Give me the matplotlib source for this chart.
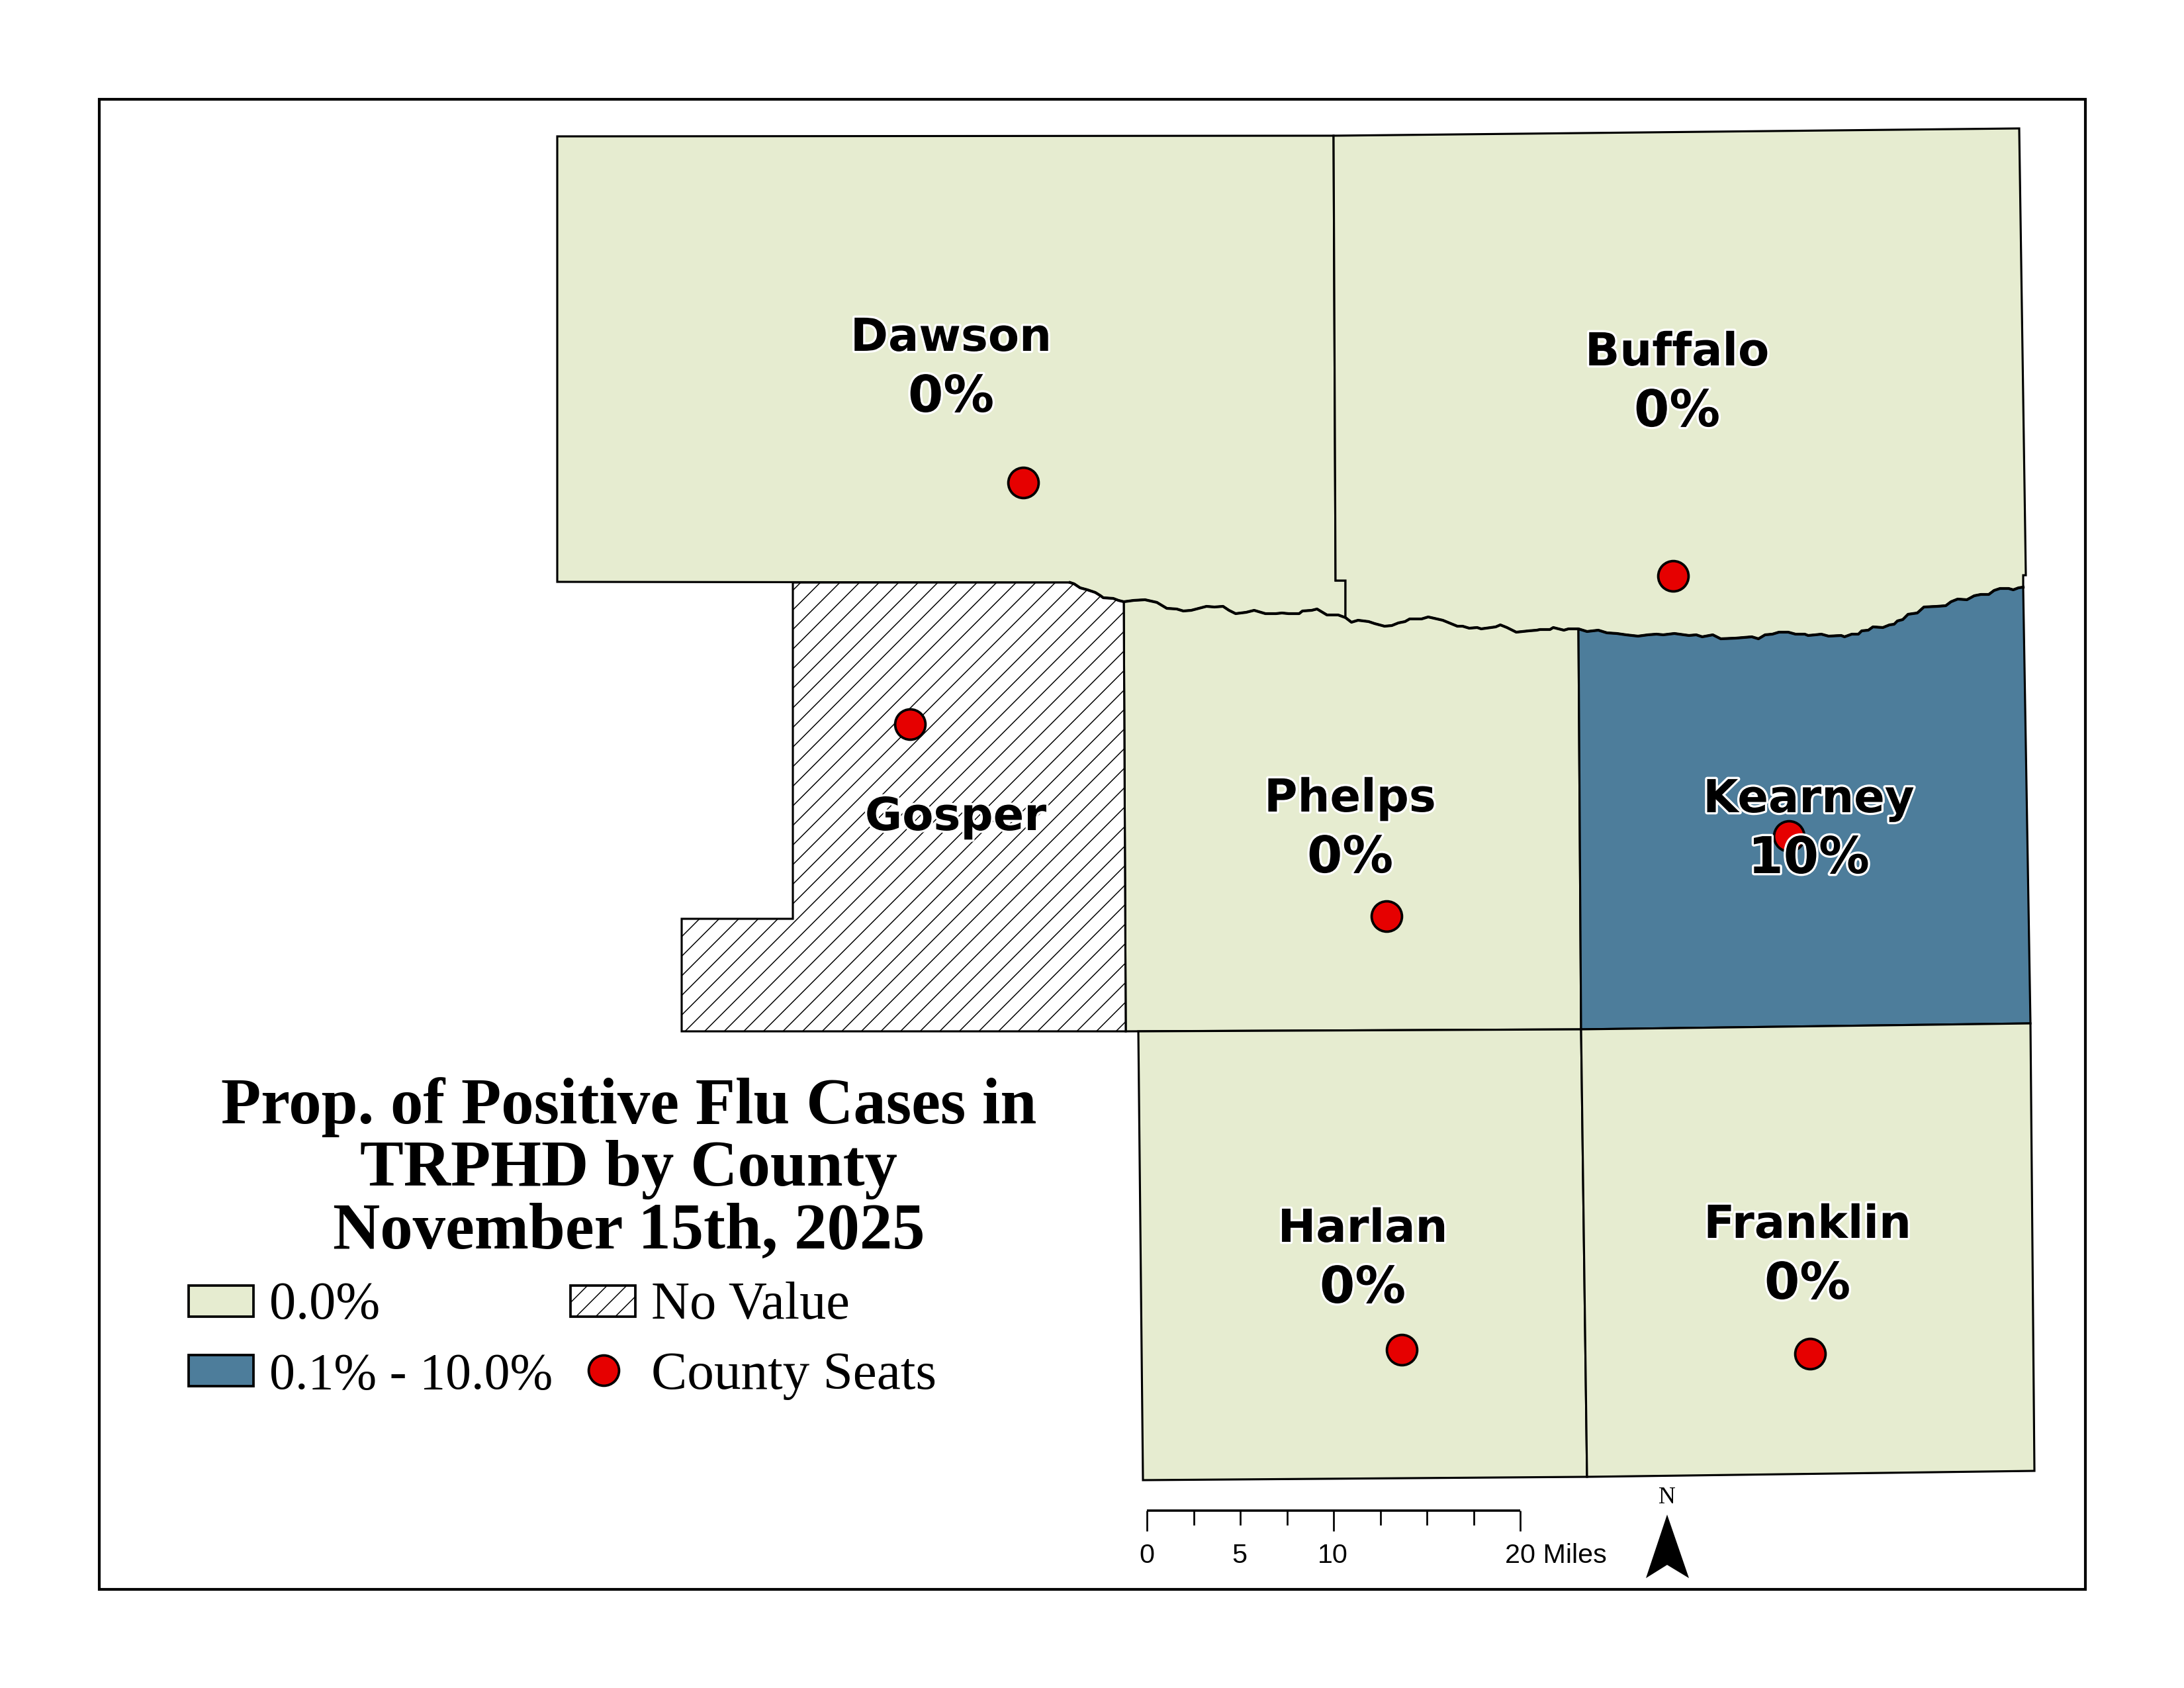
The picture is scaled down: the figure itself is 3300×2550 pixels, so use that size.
import numpy as np
import matplotlib
matplotlib.use("Agg")
import matplotlib.pyplot as plt
import matplotlib.patheffects as pe
from matplotlib.patches import Polygon, Rectangle
from matplotlib.collections import LineCollection

# ---- data (map vertices, in sheet pixels) ----
RIVER_X = [1600,1617,1623,1632,1643,1655,1663,1667,1682,1690,1698,1713,1730,1748,1763,1778,1788,1800,1823,1835,1848,1857,1867,1883,1895,1912,1928,1937,1947,1963,1968,1982,1990,2005,2022,2033,2042,2052,2068,2077,2092,2103,2113,2123,2130,2148,2158,2180,2202,2210,2220,2232,2238,2260,2267,2277,2291,2310,2322,2327,2342,2347,2363,2370,2385,2398,2415,2428,2443,2457,2475,2490,2503,2513,2530,2552,2563,2572,2588,2600,2623,2647,2657,2667,2678,2688,2702,2713,2727,2732,2743,2752,2763,2782,2787,2798,2808,2813,2823,2830,2845,2855,2862,2867,2875,2883,2897,2907,2927,2940,2948,2958,2972,2983,2993,3005,3013,3022,3035,3042,3050,3057]
RIVER_Y = [880,880,882,888,891,895,900,903,904,907,909,907,906,910,919,920,923,922,916,917,916,922,927,925,922,927,927,926,927,927,923,922,920,929,929,933,940,937,939,942,946,945,941,939,935,935,932,937,946,946,949,948,950,947,944,948,955,953,952,951,951,948,952,950,950,954,952,956,957,959,961,959,958,959,957,960,959,962,959,965,964,962,965,959,958,955,955,958,958,960,959,958,961,960,962,958,958,953,952,947,948,944,943,938,936,928,926,917,916,915,909,905,906,900,898,898,892,889,889,891,888,887]
RIVER_X = np.array(RIVER_X); RIVER_Y = np.array(RIVER_Y)

def river(x0, x1):
    m = (RIVER_X >= x0) & (RIVER_X <= x1)
    return list(zip(RIVER_X[m], RIVER_Y[m]))

DAWSON_EDGE = [(842,879),(842,206),(2015,205),(2018,877),(2033,877)]
BUFFALO_EDGE = [(2015,205),(3051,194),(3061,869),(3057,869)]
GOSPER_EDGE = [(1698,909),(1701,1558),(1030,1558),(1030,1388),(1198,1388),(1198,880)]
PHELPS_EDGE = [(2385,950),(2389,1555),(1701,1558)]
KEARNEY_EDGE = [(3068,1546),(2389,1555),(2385,950)]
HARLAN = [(1720,1558),(2389,1555),(2398,2231),(1727,2236)]
FRANKLIN = [(2389,1555),(3068,1546),(3074,2222),(2398,2231)]

COUNTIES = ["Dawson","Buffalo","Gosper","Phelps","Kearney","Harlan","Franklin"]
LABEL_PCT = ["0%","0%","","0%","10%","0%","0%"]
LABEL_X = [1437,2534,1444,2040,2733,2059,2731]
LABEL_BASE = [530,552,1254,1226,1227,1876,1870]
PCT_BASE = [622,644,None,1318,1319,1968,1962]
SEAT_X = [1546,2528,1375,2095,2703,2118,2735]
SEAT_Y = [729,870,1094,1384,1263,2039,2045]

TITLE_LINES = ["Prop. of Positive Flu Cases in","TRPHD by County","November 15th, 2025"]
TITLE_BASE = [1697,1791,1886]
LEGEND_LABELS = ["0.0%","0.1% - 10.0%","No Value","County Seats"]
LEGEND_SIZES = [19.3,18.7,19.3,19.5]
SCALE_TICKS = [0,2.5,5,7.5,10,12.5,15,17.5,20]
SCALE_LABELS = ["0","5","10"]
SCALE_LABEL_X = [1733,1873,2014]

GREEN = "#E6ECD0"; BLUE = "#4D7D9B"; RED = "#E60000"

fig = plt.figure(figsize=(11,8.5), dpi=300, facecolor="white")
ax = fig.add_axes([0,0,1,1])
ax.set_xlim(0,3300); ax.set_ylim(2550,0); ax.axis("off")

LW = 0.75
def poly(v, fc, z=2):
    p = Polygon(v, closed=True, fc=fc, ec="black", lw=LW, joinstyle="miter", zorder=z)
    ax.add_patch(p); return p

def hatch(patch, xmin, xmax, ymin, ymax):
    step = 29.6
    cs = np.arange(2593 - step*140, 2593 + step*140, step)
    cs = cs[(cs > xmin+ymin) & (cs < xmax+ymax)]
    segs = [[(c-ymax, ymax),(c-ymin, ymin)] for c in cs]
    lc = LineCollection(segs, colors="black", linewidths=0.36, zorder=patch.get_zorder()+0.1)
    ax.add_collection(lc)
    lc.set_clip_path(patch)

poly(DAWSON_EDGE + river(1600,2033)[::-1], GREEN)
poly(BUFFALO_EDGE + river(2033,3057)[::-1] + [(2033,877),(2018,877)], GREEN)
gosper = poly(GOSPER_EDGE + river(1600,1698), "white", z=2.2)
hatch(gosper, 1030, 1701, 880, 1558)
poly(river(1698,2385) + PHELPS_EDGE, GREEN)
poly(river(2385,3057) + KEARNEY_EDGE, BLUE)
poly(HARLAN, GREEN); poly(FRANKLIN, GREEN)
ax.plot(RIVER_X[1:], RIVER_Y[1:], color="black", lw=1.0, zorder=3)

# seats
ax.plot(SEAT_X, SEAT_Y, ls="none", marker="o", ms=11, mfc=RED, mec="black", mew=0.9, zorder=4)

# county labels
halo = [pe.withStroke(linewidth=1.6, foreground="white")]
LABEL_STYLE = dict(family="DejaVu Sans", weight="bold", ha="center", va="baseline",
                   color="black", path_effects=halo, zorder=5)
for n,p,x,b,pb in zip(COUNTIES,LABEL_PCT,LABEL_X,LABEL_BASE,PCT_BASE):
    ax.text(x,b,n,fontsize=16.5,**LABEL_STYLE)
    if p:
        ax.text(x,pb,p,fontsize=18.4,**LABEL_STYLE)

# title
for line,b in zip(TITLE_LINES,TITLE_BASE):
    ax.text(950,b,line,family="Liberation Serif",weight="bold",fontsize=23.7,ha="center",va="baseline",color="black")

# legend
def swatch(x,y,fc):
    r = Rectangle((x,y),98,47,fc=fc,ec="black",lw=0.9,zorder=3); ax.add_patch(r); return r
swatch(285,1942,GREEN); swatch(285,2047,BLUE)
r = swatch(862,1942,"white"); hatch(r,862,960,1942,1989)
ax.plot([912],[2070],ls="none",marker="o",ms=11,mfc=RED,mec="black",mew=0.9,zorder=4)
for t,s,x,b in zip(LEGEND_LABELS,LEGEND_SIZES,[407,407,984,984],[1992,2098,1992,2098]):
    ax.text(x,b,t,family="Liberation Serif",fontsize=s,ha="left",va="baseline",color="black")

# scale bar
x0,x1,ytop = 1733,2297,2282
xs = x0 + (x1-x0)*np.array(SCALE_TICKS)/20
ax.plot([x0,x1],[ytop,ytop],color="black",lw=0.85,solid_capstyle="butt",zorder=3)
for v,x in zip(SCALE_TICKS,xs):
    ax.plot([x,x],[ytop,2313 if v%10==0 else 2304],color="black",lw=0.65,solid_capstyle="butt",zorder=3)
for t,x in zip(SCALE_LABELS,SCALE_LABEL_X):
    ax.text(x,2361,t,family="Liberation Sans",fontsize=9.9,ha="center",va="baseline",color="black")
ax.text(2274,2361,"20 Miles",family="Liberation Sans",fontsize=9.9,ha="left",va="baseline",color="black")

# north arrow
ax.add_patch(Polygon([(2519,2288),(2552,2384),(2519,2364),(2487,2384)],closed=True,fc="black",ec="none",zorder=3))
ax.text(2519,2271,"N",family="Liberation Serif",fontsize=8.6,ha="center",va="baseline",color="black")

# neatline
ax.add_patch(Rectangle((150,150),3001,2251,fc="none",ec="black",lw=1.0,zorder=6))

fig.savefig("out.png",dpi=300,facecolor="white")
